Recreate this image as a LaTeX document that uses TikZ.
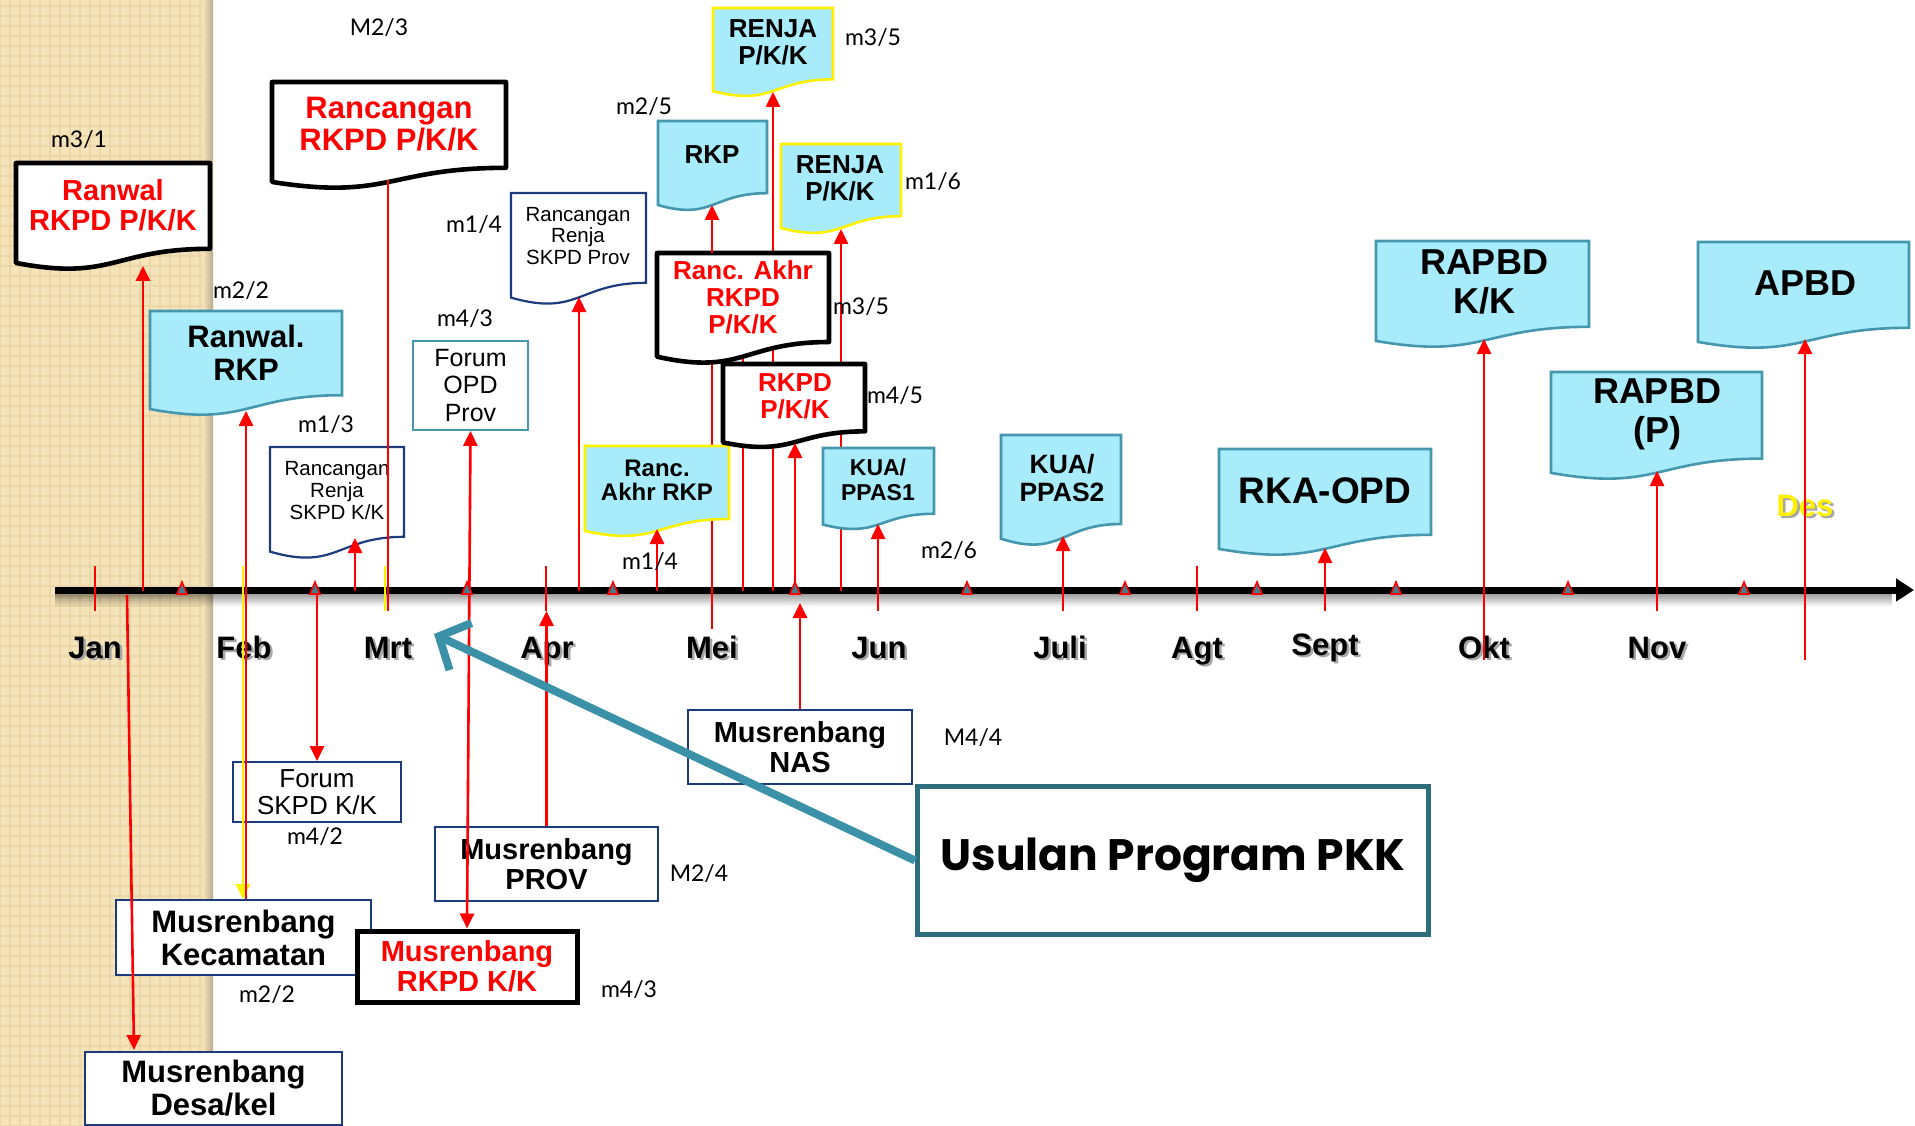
\documentclass[tikz,border=0pt]{standalone}
\usepackage{fontspec}
\setmainfont{Liberation Sans}
\newfontfamily\notefont{Lato}
\newfontfamily\pkkfont{Poppins}
\usetikzlibrary{arrows.meta,patterns.meta}

\newcommand{\setfs}[2]{\fontsize{#1}{#2}\selectfont}
% document shape: style, left, top, right, height
\newcommand{\docshape}[5]{%
  \draw[#1] (#2,#3) -- (#4,#3) -- (#4,{#3+0.802*#5})
    .. controls ({(#2+#4)/2},{#3+0.802*#5}) and ({(#2+#4)/2},{#3+1.1075*#5})
    .. (#2,{#3+0.934*#5}) -- cycle;}

\begin{document}
\begin{tikzpicture}[x=1pt,y=-1pt]
  % Colors
  \definecolor{tanbg}{HTML}{F5E4B9}
  \definecolor{tanline}{HTML}{EAD6A6}
  \definecolor{doccyan}{HTML}{A8ECFB}
  \definecolor{docteal}{HTML}{4597AE}
  \definecolor{docnavy}{HTML}{1C3B7C}
  \definecolor{pkkteal}{HTML}{2E6E7C}
  \definecolor{arrowteal}{HTML}{3B91A8}
  \definecolor{markfill}{HTML}{3F7F90}

  % Styles
  \tikzstyle{cyan doc}=[fill=doccyan,draw=docteal,line width=2.6pt]
  \tikzstyle{yellow doc}=[fill=doccyan,draw=yellow,line width=2.6pt]
  \tikzstyle{white doc}=[fill=white,draw=docnavy,line width=2.2pt]
  \tikzstyle{key doc}=[fill=white,draw=black,line width=4.6pt,line join=round]
  \tikzstyle{doc text}=[inner sep=0pt,align=center,font=\bfseries]
  \tikzstyle{plain box}=[draw=docnavy,fill=white,line width=1.8pt,inner sep=0pt,align=center]
  \tikzstyle{key box}=[plain box,draw=black,line width=5pt]
  \tikzstyle{flow}=[red,line width=2.6pt,-{Triangle[length=15pt,width=14pt]}]
  \tikzstyle{flow both}=[flow,{Triangle[length=15pt,width=14pt]}-{Triangle[length=15pt,width=14pt]}]
  \tikzstyle{flow line}=[red,line width=2.4pt]
  \tikzstyle{month}=[inner sep=0pt,anchor=base,font=\setfs{31}{31}\bfseries]
  \tikzstyle{note}=[inner sep=0pt,font=\notefont\setfs{23}{23}]
  \tikzstyle{axis mark}=[draw=red,fill=markfill,line width=1.6pt]

  % Background
  \useasboundingbox (0,0) rectangle (1915,1126);
  \fill[white] (0,0) rectangle (1915,1126);
  \fill[tanbg] (0,0) rectangle (213,1126);
  \fill[pattern={Lines[angle=0,distance=10pt,line width=2.5pt]},pattern color=tanline] (0,0) rectangle (213,1126);
  \fill[pattern={Lines[angle=90,distance=10pt,line width=2.5pt]},pattern color=tanline] (0,0) rectangle (213,1126);
  \shade[left color=tanbg,right color=black!25!tanbg] (203,0) rectangle (213,1126);

  % Time axis
  \coordinate (axis start) at (55,590);
  \coordinate (axis end) at (1914,590);
  \coordinate (axis) at (0,591);
  \coordinate (below axis) at (0,611);
  \coordinate (axis foot) at (0,603);
  \coordinate (mei foot) at (0,629);
  \coordinate (under axis) at (0,660);
  \foreach \i in {1,...,7}
    \draw[black,opacity=0.45-0.06*\i,line width=2pt] (55,592+2*\i) -- (1892,592+2*\i);
  \draw[line width=7pt,-{Triangle[length=18pt,width=22pt]}] (axis start) -- (axis end);

  \foreach \x/\y/\m in {95/658/Jan,244/658/Feb,388/658/Mrt,547/658/Apr,712/658/Mei,
      879/658/Jun,1060/658/Juli,1197/658/Agt,1325/655/Sept,1484/658/Okt,1657/658/Nov}{
    \node[month,text=black!35] at (\x+2.5,\y+2.5) {\m};
    \node[month] (\m) at (\x,\y) {\m};
  }
  \node[month,text=black!35] at (1807.5,518.5) {Des};
  \node[month,text=yellow] (Des) at (1805,516) {Des};

  % Arrow ends
  \coordinate (ranwal rkpd in) at (143,266);
  \coordinate (ranwal rkp in) at (246,411);
  \coordinate (renja kk in) at (355,538);
  \coordinate (renja prov in) at (579,297);
  \coordinate (rkp in) at (712,205);
  \coordinate (renja a in) at (773,92);
  \coordinate (renja b in) at (841,229);
  \coordinate (rkpd in) at (795,443);
  \coordinate (ranc rkp in) at (657,529);
  \coordinate (kua a in) at (878,524);
  \coordinate (kua b in) at (1063,536);
  \coordinate (rka in) at (1325,548);
  \coordinate (rapbd kk in) at (1484,339);
  \coordinate (rapbd p in) at (1657,471);
  \coordinate (apbd in) at (1805,339);
  \coordinate (ranc rkpd out) at (388,180);
  \coordinate (akhr top) at (712,253);
  \coordinate (akhr out a) at (712,360);
  \coordinate (akhr out b) at (743,356);
  \coordinate (jan out) at (127,595);
  \coordinate (desa in) at (134,1050);
  \coordinate (feb tick) at (243,566);

  % Lines behind the documents
  \draw[flow line] (akhr out a) -- (akhr out a |- mei foot);
  \draw[flow line] (akhr out b) -- (akhr out b |- axis);
  \draw[flow] (renja a in |- axis) -- (renja a in);
  \draw[flow] (renja b in |- axis) -- (renja b in);

  % Documents
  \docshape{key doc}{16}{163}{210}{107}
  \node[doc text,red,font=\setfs{29}{30}\bfseries] (ranwal rkpd) at (113,205) {Ranwal\\RKPD P/K/K};
  \docshape{key doc}{272}{82}{506}{107}
  \node[doc text,red,font=\setfs{31}{32}\bfseries] (ranc rkpd) at (389,124) {Rancangan\\RKPD P/K/K};
  \docshape{cyan doc}{150}{311}{342}{105}
  \node[doc text,font=\setfs{31}{33}\bfseries] (ranwal rkp) at (246,353) {Ranwal.\\RKP};
  \docshape{white doc}{270}{447}{404}{112}
  \node[doc text,font=\setfs{20.5}{22}] (renja kk) at (337,491) {Rancangan\\Renja\\SKPD K/K};
  \docshape{white doc}{511}{193}{646}{112}
  \node[doc text,font=\setfs{20.5}{21.5}] (renja prov) at (578,236) {Rancangan\\Renja\\SKPD Prov};
  \docshape{cyan doc}{658}{121}{767}{90}
  \node[doc text,font=\setfs{26}{27}\bfseries] (rkp) at (712,155) {RKP};
  \docshape{yellow doc}{713}{8}{833}{89}
  \node[doc text,font=\setfs{26}{27}\bfseries] (renja a) at (773,42) {RENJA\\P/K/K};
  \docshape{yellow doc}{781}{144}{901}{90}
  \node[doc text,font=\setfs{26}{27}\bfseries] (renja b) at (840,178) {RENJA\\P/K/K};
  \docshape{yellow doc}{585}{446}{729}{91}
  \node[doc text,font=\setfs{24}{24}\bfseries] (ranc rkp) at (657,480) {Ranc.\\Akhr RKP};
  \docshape{cyan doc}{823}{448}{934}{82}
  \node[doc text,font=\setfs{23}{25}\bfseries] (kua a) at (878,480) {KUA/\\PPAS1};
  \docshape{cyan doc}{1001}{435}{1121}{111}
  \node[doc text,font=\setfs{26.5}{28}\bfseries] (kua b) at (1062,478) {KUA/\\PPAS2};
  \docshape{cyan doc}{1219}{449}{1431}{107}
  \node[doc text,font=\setfs{37}{37}\bfseries] (rka) at (1325,491) {RKA-OPD};
  \docshape{cyan doc}{1376}{241}{1589}{107}
  \node[doc text,font=\setfs{36}{39}\bfseries] (rapbd kk) at (1484,282) {RAPBD\\K/K};
  \docshape{cyan doc}{1551}{372}{1762}{108}
  \node[doc text,font=\setfs{36}{39}\bfseries] (rapbd p) at (1657,414) {RAPBD\\(P)};
  \docshape{cyan doc}{1698}{242}{1909}{107}
  \node[doc text,font=\setfs{36}{36}\bfseries] (apbd) at (1805,283) {APBD};
  \docshape{key doc}{657}{253}{829}{111}
  \node[doc text,red,font=\setfs{26}{27}\bfseries] (ranc akhr rkpd) at (743,297) {Ranc. Akhr\\RKPD\\P/K/K};
  \docshape{key doc}{723}{364}{865}{84}
  \node[doc text,red,font=\setfs{26}{27}\bfseries] (rkpd) at (795,396) {RKPD\\P/K/K};

  % Boxes
  \node[plain box,draw=docteal,minimum width=115pt,minimum height=89pt,font=\setfs{25}{27.5}] (forum opd) at (470.5,385.5) {Forum\\OPD\\Prov};
  \node[plain box,minimum width=168pt,minimum height=60pt,font=\setfs{26}{27}] (forum skpd) at (317,792) {Forum\\SKPD K/K};
  \node[plain box,minimum width=223pt,minimum height=74pt,font=\setfs{29}{30}\bfseries] (prov) at (546.5,864) {Musrenbang\\PROV};
  \node[plain box,minimum width=224pt,minimum height=74pt,font=\setfs{29}{30}\bfseries] (nas) at (800,747) {Musrenbang\\NAS};
  \node[plain box,minimum width=255pt,minimum height=75pt,font=\setfs{31}{33}\bfseries] (kecamatan) at (243.5,937.5) {Musrenbang\\Kecamatan};
  \node[key box,minimum width=220pt,minimum height=71pt,text=red,font=\setfs{29}{30}\bfseries] (musren kk) at (467,966.5) {Musrenbang\\RKPD K/K};
  \node[plain box,minimum width=257pt,minimum height=73pt,font=\setfs{31}{33}\bfseries] (desa) at (213.5,1088.5) {Musrenbang\\Desa/kel};

  % Flows
  \draw[flow line] (ranc rkpd out) -- (ranc rkpd out |- below axis);
  \draw[flow] (ranwal rkpd in |- axis) -- (ranwal rkpd in);
  \draw[flow] (jan out) -- (desa in);
  \draw[flow,yellow] (feb tick) -- (kecamatan.north -| feb tick);
  \draw[flow] ([xshift=2.5pt]kecamatan.north) -- (ranwal rkp in);
  \draw[flow] (forum skpd.north |- axis) -- (forum skpd.north);
  \draw[flow] (renja kk in |- axis) -- (renja kk in);
  \draw[flow both] (forum opd.south) -- (musren kk.north);
  \draw[flow] (prov.north) -- (prov.north |- below axis);
  \draw[flow] (renja prov in |- axis) -- (renja prov in);
  \draw[flow] (ranc rkp in |- axis) -- (ranc rkp in);
  \draw[flow] (akhr top) -- (rkp in);
  \draw[flow] (rkpd in |- axis) -- (rkpd in);
  \draw[flow] (nas.north) -- (nas.north |- axis foot);
  \draw[flow] (kua a in |- below axis) -- (kua a in);
  \draw[flow] (kua b in |- below axis) -- (kua b in);
  \draw[flow] (rka in |- below axis) -- (rka in);
  \draw[flow] (rapbd kk in |- under axis) -- (rapbd kk in);
  \draw[flow] (rapbd p in |- below axis) -- (rapbd p in);
  \draw[flow] (apbd in |- under axis) -- (apbd in);

  % Month ticks and marks
  \foreach \x in {95,546,1197}
    \draw[flow line] (\x,566) -- (\x,611);
  \draw[yellow,line width=2pt] (385,566) -- (385,611);
  \foreach \x in {182,315,467,613,795,967,1125,1257,1396,1568,1744}
    \draw[axis mark] (\x-5,594) -- (\x,582) -- (\x+5,594) -- cycle;

  % Proposal box
  \coordinate (mrt tip) at (434,634);
  \node[draw=pkkteal,fill=white,line width=5pt,minimum width=511pt,minimum height=148pt,inner sep=0pt,
        font=\pkkfont\bfseries\setfs{44}{44}] (pkk) at (1173,860.5) {Usulan Program PKK};
  \draw[arrowteal,line width=8pt,-{Straight Barb[length=24pt,width=52pt]}] (pkk.west) -- (mrt tip);

  % Month codes
  \foreach \x/\y/\t [count=\i] in {379/28/{M2/3},79/140/{m3/1},241/291/{m2/2},326/425/{m1/3},
      474/225/{m1/4},465/319/{m4/3},644/107/{m2/5},873/38/{m3/5},933/182/{m1/6},861/307/{m3/5},
      895/396/{m4/5},650/562/{m1/4},949/551/{m2/6},973/738/{M4/4},699/874/{M2/4},315/837/{m4/2},
      267/995/{m2/2},629/990/{m4/3}}
    \node[note] (code\i) at (\x,\y) {\t};
\end{tikzpicture}
\end{document}
